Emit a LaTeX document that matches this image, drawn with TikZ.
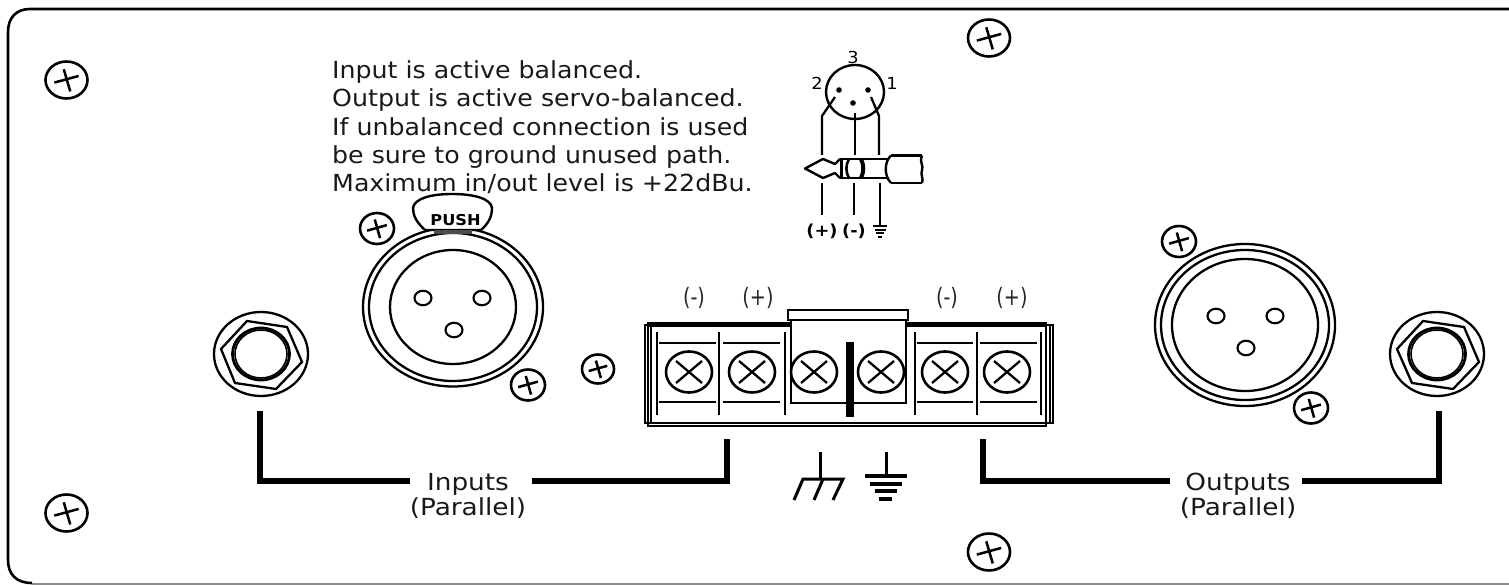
\documentclass[tikz,border=0pt]{standalone}
\usepackage{fontspec}
\setmainfont{DejaVu Sans}
\newfontfamily\notefont[FakeStretch=1.075]{DejaVu Sans}
\newfontfamily\labelfont[FakeStretch=1.12]{DejaVu Sans}
\newfontfamily\tagfont[FakeStretch=0.8]{DejaVu Sans}
\newfontfamily\digitfont[FakeStretch=1.08]{DejaVu Sans}
\usetikzlibrary{shapes.geometric}
\newcommand{\panelscrew}[5]{% name x y rx ry
  \node[screwbody,minimum width=#4*2pt,minimum height=#5*2pt] (#1) at (#2,#3) {};
  \draw[crossline] ({#2-0.58*#4},{#3+0.14*#5}) -- ({#2+0.58*#4},{#3-0.22*#5});
  \draw[crossline] ({#2-0.13*#4},{#3-0.58*#5}) -- ({#2+0.18*#4},{#3+0.62*#5});
}
\newcommand{\termscrew}[2]{% name x
  \node[screwbody,minimum width=46pt,minimum height=41pt] (#1) at (#2,372) {};
  \draw[thinline] ({#2-13},383) -- ({#2+13},361);
  \draw[thinline] ({#2-13},361) -- ({#2+13},383);
}
\newcommand{\hole}[3]{\node[screwbody,line width=2.1pt,minimum width=17pt,minimum height=14.5pt] (#1) at (#2,#3) {};}
\tikzset{
  x=1pt,y=-1pt,
  screwbody/.style={ellipse,draw,line width=2.6pt,inner sep=0pt,fill=white},
  crossline/.style={line width=2.5pt},
  thinline/.style={line width=2.3pt},
  ringline/.style={line width=2.3pt},
  leadline/.style={line width=6.5pt,line join=miter},
  noteText/.style={font=\notefont\fontsize{23.5}{28.4}\selectfont,align=left,inner sep=0pt,text=black!90},
  leadText/.style={font=\labelfont\fontsize{23.5}{25}\selectfont,inner sep=0pt,text=black!90},
  tagText/.style={font=\tagfont\fontsize{24}{26}\selectfont,inner sep=0pt,text=black!85},
  smallText/.style={font=\digitfont\fontsize{16.5}{18}\selectfont,inner sep=0pt},
  wiring/.style={line width=2.3pt},
  plugline/.style={line width=2.4pt,line join=round},
}
\begin{document}
\begin{tikzpicture}
\useasboundingbox (0,0) rectangle (1509,585);
% frame
\draw[line width=2.6pt] (1509,9) -- (30,9) .. controls (16,9) and (8,18) .. (8,32) -- (8,560) .. controls (8,574) and (16,583) .. (32,583);
\draw[line width=1.6pt,black!45] (32,584) -- (1509,584);
% panel screws
\panelscrew{s1}{66.5}{80}{21}{18.5}
\panelscrew{s2}{66.5}{513}{21}{18.5}
\panelscrew{s3}{989}{38}{21}{18.5}
\panelscrew{s4}{989}{552}{21}{18.5}
\panelscrew{s5}{377}{228.5}{17}{15.5}
\panelscrew{s6}{528}{385}{17}{15.5}
\panelscrew{s7}{598}{369}{16}{14.5}
\panelscrew{s8}{1179}{241.5}{17}{15.5}
\panelscrew{s9}{1311}{408}{17}{15.5}
% note
\node[noteText,anchor=base west] (note) at (332,192) {Input is active balanced.\\Output is active servo-balanced.\\If unbalanced connection is used\\be sure to ground unused path.\\Maximum in/out level is +22dBu.};
% left jack
\node[ellipse,draw,ringline,minimum width=94pt,minimum height=84pt,inner sep=0pt] (jackL) at (261,354) {};
\draw[ringline] (247,321) -- (287,327) -- (302,362) -- (276,389) -- (235,383) -- (221,349) -- cycle;
\draw[line width=2.8pt] (261,354) ellipse[x radius=28.5,y radius=26];
\draw[line width=1.6pt] (261,354) ellipse[x radius=26,y radius=24];
% right jack
\node[ellipse,draw,ringline,minimum width=94pt,minimum height=84pt,inner sep=0pt] (jackR) at (1437,354) {};
\draw[ringline] (1423,321) -- (1464,327) -- (1479,362) -- (1453,389) -- (1412,383) -- (1397,349) -- cycle;
\draw[line width=2.8pt] (1437,354) ellipse[x radius=28.5,y radius=26];
\draw[line width=1.6pt] (1437,354) ellipse[x radius=26,y radius=24];
% left XLR
\node[ellipse,draw,ringline,minimum width=180pt,minimum height=159pt,inner sep=0pt] (xlrL) at (453,307) {};
\draw[ringline] (453,307) ellipse[x radius=84,y radius=74];
\draw[ringline] (453,307) ellipse[x radius=63,y radius=57];
\hole{h1}{423}{298}
\hole{h2}{482}{298}
\hole{h3}{454}{330}
\draw[line width=2.4pt,fill=white] (425,230) .. controls (416,222) and (413,215) .. (413,208) .. controls (414,199) and (430,194) .. (452,194) .. controls (475,194) and (491,199) .. (492,208) .. controls (492,216) and (489,223) .. (481,230) -- cycle;
\draw[line width=3.2pt,black!70] (434,232) -- (472,232);
\node[inner sep=0pt,font=\digitfont\fontsize{15}{17}\selectfont\bfseries] (push) at (455.5,220.5) {PUSH};
% right XLR
\node[ellipse,draw,ringline,minimum width=180pt,minimum height=162pt,inner sep=0pt] (xlrR) at (1245,325) {};
\draw[ringline] (1245,325) ellipse[x radius=84,y radius=75];
\draw[ringline] (1245,325) ellipse[x radius=73,y radius=66];
\hole{h4}{1216}{316}
\hole{h5}{1275}{316}
\hole{h6}{1246}{348}
% terminal block
\draw[line width=2pt] (648,323) rectangle (1046,426);
\draw[line width=2pt] (645,325) rectangle (1053,423);
\draw[line width=2pt] (651,325) rectangle (1050,423);
\draw[line width=4.5pt] (649,325) -- (1045,325);
\draw[line width=2.2pt,fill=white] (788,310) rectangle (908,320);
\draw[line width=2.4pt,fill=white] (791,320) rectangle (906,403);
\foreach \vx in {657,719,785,915,977,1041} \draw[line width=2.2pt] (\vx,332) -- (\vx,415);
\foreach \ha/\hb in {659/716,723/780,917/973,980/1037} {
  \draw[line width=2pt] (\ha,343) -- (\hb,343);
  \draw[line width=2pt] (\ha,402) -- (\hb,402);
}
\termscrew{t1}{689}
\termscrew{t2}{752}
\termscrew{t3}{814}
\termscrew{t4}{881}
\termscrew{t5}{945}
\termscrew{t6}{1007}
\fill (846.3,342) rectangle (853.7,417);
\node[tagText] (m1) at (694,298) {(-)};
\node[tagText] (p1) at (758,298) {(+)};
\node[tagText] (m2) at (947,298) {(-)};
\node[tagText] (p2) at (1012,298) {(+)};
% leads
\coordinate (tI) at (727,439);
\coordinate (tO) at (983,439);
\node[leadText,anchor=base] (inL) at (468,490) {Inputs};
\node[leadText,anchor=base] (inP) at (468,515) {(Parallel)};
\node[leadText,anchor=base] (outL) at (1238,490) {Outputs};
\node[leadText,anchor=base] (outP) at (1238,515) {(Parallel)};
\coordinate (jI) at (260,411);
\coordinate (jO) at (1439,411);
\coordinate (iA) at (410,481);
\coordinate (iB) at (532,481);
\coordinate (oA) at (1170,481);
\coordinate (oB) at (1302,481);
\draw[leadline] (jI) -- (jI |- iA) -- (iA);
\draw[leadline] (iB) -- (tI |- iB) -- (tI);
\draw[leadline] (tO) -- (tO |- oA) -- (oA);
\draw[leadline] (oB) -- (jO |- oB) -- (jO);
% chassis ground
\draw[line width=3pt] (820,452) -- (820,479);
\draw[line width=3pt,line join=miter] (794,500) -- (803,479) -- (843,479) -- (833,500);
\draw[line width=3pt] (823,479) -- (814,500);
% earth ground
\draw[line width=3pt] (886,452) -- (886,476);
\draw[line width=3.5pt] (865,476) -- (907,476);
\draw[line width=3.5pt] (870,484) -- (902,484);
\draw[line width=3.5pt] (875,491) -- (897,491);
\draw[line width=3.5pt] (879,499) -- (892,499);
% XLR pin diagram
\node[ellipse,draw,line width=2.4pt,minimum width=58pt,minimum height=54pt,inner sep=0pt] (pinC) at (855,92) {};
\fill (839,90) circle[radius=2.8];
\fill (868,90) circle[radius=2.8];
\fill (853,103) circle[radius=2.8];
\node[smallText] (n2) at (817,83) {2};
\node[smallText] (n1) at (892,83) {1};
\node[smallText] (n3) at (853,57) {3};
\draw[wiring] (835,97) -- (822,116) -- (822,155);
\draw[wiring] (855,113) -- (855,155);
\draw[wiring] (871,97) -- (879,116) -- (879,155);
% plug
\draw[plugline] (840,159) -- (835,164) -- (823,159) -- (805,168.5) -- (823,178) -- (835,173) -- (840,178);
\draw[plugline] (840,159) -- (888,159);
\draw[plugline] (840,178) -- (888,178);
\draw[line width=3pt] (841.5,159) -- (841.5,178);
\draw[line width=2.6pt] (849,159) .. controls (845.5,165) and (845.5,172) .. (849,178);
\draw[line width=4pt] (861,159) .. controls (864,165) and (864,172) .. (861,178);
\draw[plugline] (891,155.5) .. controls (884,162) and (884,176) .. (891,183);
\draw[plugline] (891,155.5) -- (922,155.5);
\draw[plugline] (891,183) -- (922,183);
\draw[plugline] (922,155.5) .. controls (919,163) and (924,165) .. (922,170) .. controls (920,175) and (924,178) .. (922,183);
\draw[wiring] (822,183) -- (822,215);
\draw[wiring] (854,183) -- (854,215);
\draw[wiring] (880,183) -- (880,226);
\draw[line width=2pt] (873,226) -- (887,226);
\draw[line width=2pt] (874.5,230) -- (885.5,230);
\draw[line width=2pt] (876,233.5) -- (884,233.5);
\draw[line width=2pt] (878,237) -- (882,237);
\node[smallText,font=\notefont\fontsize{16.5}{18}\selectfont\bfseries] (pl) at (822,231) {(+)};
\node[smallText,font=\notefont\fontsize{16.5}{18}\selectfont\bfseries] (mi) at (854,231) {(-)};
\end{tikzpicture}
\end{document}
